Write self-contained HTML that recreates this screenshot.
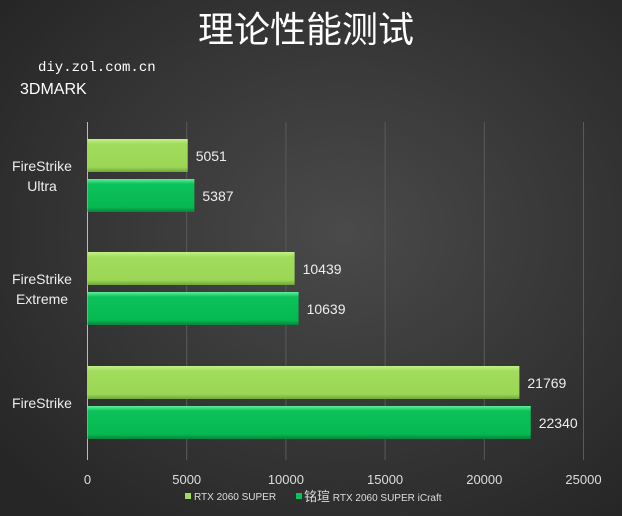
<!DOCTYPE html>
<html><head><meta charset="utf-8"><style>
body{margin:0;width:622px;height:516px;overflow:hidden;background:#333;}
svg{display:block;font-family:"Liberation Sans","Noto Sans CJK SC",sans-serif;}
</style></head><body>
<svg id="c" width="622" height="516">
<defs>
<radialGradient id="bg" cx="55%" cy="45%" r="70%"><stop offset="0" stop-color="#4a4a4a"/><stop offset="1" stop-color="#262626"/></radialGradient>
<linearGradient id="g1" x1="0" y1="0" x2="0" y2="1"><stop offset="0" stop-color="#c4ef8a"/><stop offset="0.15" stop-color="#a2dc5c"/><stop offset="0.85" stop-color="#9bd655"/><stop offset="1" stop-color="#6fa83a"/></linearGradient>
<linearGradient id="g2" x1="0" y1="0" x2="0" y2="1"><stop offset="0" stop-color="#5cf09a"/><stop offset="0.15" stop-color="#0cc25a"/><stop offset="0.85" stop-color="#06b852"/><stop offset="1" stop-color="#07843c"/></linearGradient>
</defs>
<rect width="622" height="516" fill="url(#bg)"/>
<text x="306" y="42" text-anchor="middle" font-size="36" fill="#fff">理论性能测试</text>
<text x="38" y="71" font-size="14" fill="#fff" font-family="Liberation Mono,monospace">diy.zol.com.cn</text>
<text x="20" y="94" font-size="16" fill="#fff">3DMARK</text>
<g id="grid"></g><g id="bars"></g>
<g>
<rect x="185" y="493" width="6" height="6" fill="#a2dc5c"/>
<text x="194" y="500" font-size="10" fill="#ddd">RTX 2060 SUPER</text>
<rect x="296" y="493" width="6" height="6" fill="#0cc25a"/>
<text x="304" y="501" font-size="10" fill="#ddd"><tspan font-size="13">铭瑄</tspan> RTX 2060 SUPER iCraft</text>
</g>
</svg>
<script>
const categories=["FireStrike\nUltra","FireStrike\nExtreme","FireStrike"];
const series1=[5051,10439,21769];
const series2=[5387,10639,22340];
const ticks=[0,5000,10000,15000,20000,25000];
const NS="http://www.w3.org/2000/svg";
const x0=87.5,sc=99.2/5000;
const X=v=>x0+v*sc;
const groupTop=[139,252,366];
function mk(t,a,p){const e=document.createElementNS(NS,t);for(const k in a)e.setAttribute(k,a[k]);p.appendChild(e);return e;}
const grid=document.getElementById('grid'),bars=document.getElementById('bars');
ticks.forEach((t,i)=>{
 const l=mk('line',{x1:X(t),x2:X(t),y1:122,y2:460,stroke:i==0?'#bbb':'#5a5a5a','stroke-width':1},grid);
 
 
 const tx=mk('text',{x:X(t),y:484,'text-anchor':'middle','font-size':13,fill:'#ddd'},grid);
 tx.textContent=t;
 
 
});
categories.forEach((c,i)=>{
 const lines=c.split("\n");const cy=groupTop[i]+37;
 lines.forEach((s,j)=>{
  const t=mk('text',{x:42,y:cy+(j-(lines.length-1)/2)*20+5,'text-anchor':'middle','font-size':14,fill:'#eee'},bars);
  t.textContent=s;
  
  
 });
 [[series1,'url(#g1)',0],[series2,'url(#g2)',40]].forEach(([s,f,off])=>{
  const y=groupTop[i]+off,w=X(s[i])-x0;
  const r=mk('rect',{x:x0,y:y,width:w,height:33,fill:f},bars);
  
  
  const t=mk('text',{x:X(s[i])+8,y:y+22,'font-size':14,fill:'#eee'},bars);
  t.textContent=s[i];
  
  
 });
});
</script>
</body></html>
